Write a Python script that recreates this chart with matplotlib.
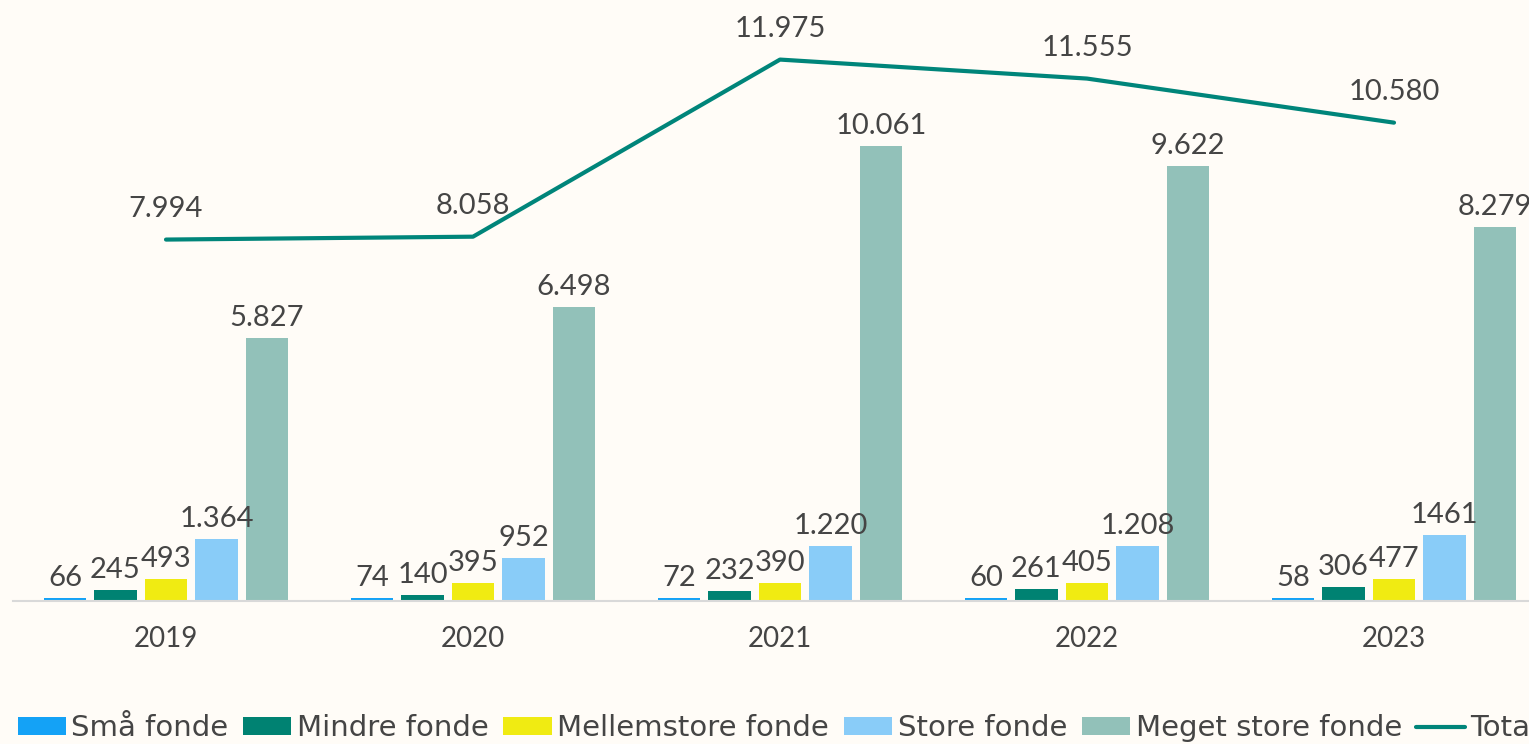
import matplotlib.pyplot as plt
import numpy as np

# data
years = ["2019", "2020", "2021", "2022", "2023"]
series_names = ["Små fonde", "Mindre fonde", "Mellemstore fonde", "Store fonde", "Meget store fonde"]
smaa = [66, 74, 72, 60, 58]
mindre = [245, 140, 232, 261, 306]
mellem = [493, 395, 390, 405, 477]
store = [1364, 952, 1220, 1208, 1461]
meget_store = [5827, 6498, 10061, 9622, 8279]
total = [7994, 8058, 11975, 11555, 10580]

bar_labels = [
    ["66", "74", "72", "60", "58"],
    ["245", "140", "232", "261", "306"],
    ["493", "395", "390", "405", "477"],
    ["1.364", "952", "1.220", "1.208", "1461"],
    ["5.827", "6.498", "10.061", "9.622", "8.279"],
]
total_labels = ["7.994", "8.058", "11.975", "11.555", "10.580"]

colors = ["#14A2F6", "#008272", "#F0EB12", "#89CCF8", "#92C1B9"]
line_color = "#00857A"
bg = "#FFFCF7"
text_color = "#454545"

plt.rcParams['font.family'] = ['Lato', 'DejaVu Sans']

fig = plt.figure(figsize=(15.29, 7.44), dpi=100, facecolor=bg)
ax = fig.add_axes([12.5 / 1529, 143 / 744, 5 * 307 / 1529, 0.790])
ax.set_facecolor(bg)

x = np.arange(len(years))
pitch = 0.1645
width = 0.137
all_series = [smaa, mindre, mellem, store, meget_store]
for i, vals in enumerate(all_series):
    pos = x + (i - 2) * pitch
    ax.bar(pos, vals, width, color=colors[i], label=series_names[i], zorder=2)
    for p, v, lab in zip(pos, vals, bar_labels[i]):
        ax.annotate(lab, (p, v), xytext=(0, 5), textcoords="offset points",
                    ha="center", va="bottom", fontsize=21, color=text_color)

ax.plot(x, total, color=line_color, lw=3, label="Total", zorder=3,
        solid_capstyle="round")
for xi, v, lab in zip(x, total, total_labels):
    ax.annotate(lab, (xi, v), xytext=(0, 13), textcoords="offset points",
                ha="center", va="bottom", fontsize=21, color=text_color)

ax.set_xlim(-0.5, 4.5)
ax.set_ylim(0, 13000)
ax.set_xticks(x)
ax.set_xticklabels(years, fontsize=20, color=text_color)
ax.tick_params(axis="x", length=0, pad=18)
ax.set_yticks([])
for s in ["top", "right", "left"]:
    ax.spines[s].set_visible(False)
ax.spines["bottom"].set_color("#D9D9D9")
ax.spines["bottom"].set_linewidth(1.5)

handles, labels = ax.get_legend_handles_labels()
order = [1, 2, 3, 4, 5, 0]
fig.legend([handles[k] for k in order], [labels[k] for k in order],
           loc="lower left", bbox_to_anchor=(0.0, -0.021), ncol=6, frameon=False,
           prop={"family": "DejaVu Sans", "size": 21}, handlelength=1.65,
           handleheight=0.55, handletextpad=0.2, columnspacing=0.5,
           labelcolor=text_color, borderaxespad=0.2)

plt.savefig("out.png", dpi=100, facecolor=bg)
